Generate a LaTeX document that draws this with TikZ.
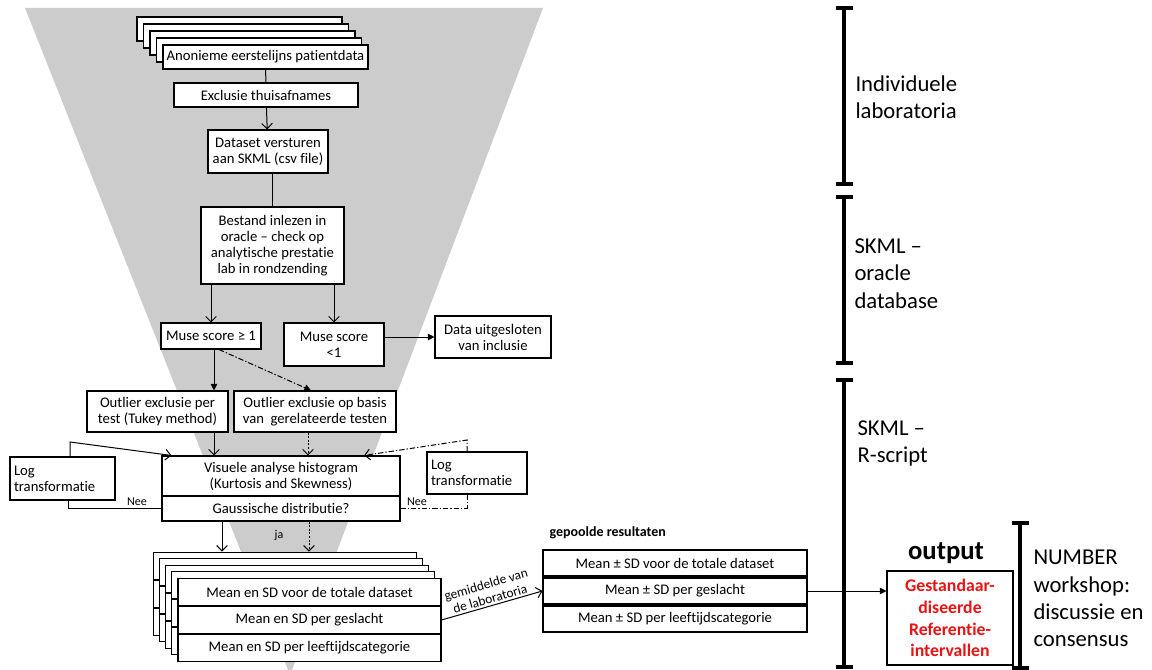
\documentclass[tikz,border=0pt]{standalone}
\usepackage{fontspec}
\setmainfont{Carlito}[Ligatures=NoCommon]
\usetikzlibrary{arrows.meta}
\definecolor{funnelgray}{RGB}{204,204,204}
\definecolor{outred}{RGB}{232,20,20}
\newcommand\myboxfont{\fontsize{11}{12}\selectfont}
\newcommand\mysidefont{\fontsize{17}{20.5}\selectfont}
\newcommand\mysmallfont{\fontsize{9}{10}\selectfont}
\tikzset{
  box/.style={draw, fill=white, line width=0.8pt, inner sep=0pt, align=center, font=\myboxfont},
  openarr/.style={-{Straight Barb[length=4pt,width=8pt]}},
  fillarr/.style={-{Triangle[length=5pt,width=5pt]}},
  dashdot/.style={dash pattern=on 4pt off 1.5pt on 1pt off 1.5pt},
  dotline/.style={dash pattern=on 1.5pt off 1.2pt},
  bar/.style={line width=2.5pt},
  side/.style={anchor=west, inner sep=0pt, align=left, font=\mysidefont},
  small/.style={inner sep=0pt, font=\mysmallfont}
}
\begin{document}
\begin{tikzpicture}[x=0.75pt,y=-0.75pt,line width=0.75pt]
\useasboundingbox (0,0) rectangle (1152,670);
\begin{scope}
\clip (0,0) rectangle (1152,670);
\fill[funnelgray] (25,8) -- (543,8) -- (290,675) -- cycle;
\end{scope}

% top stack
\foreach \k in {4,3,2,1}
  \node[box, minimum width=153.75pt, minimum height=18pt] (anonb\k) at ({265.5-6.5*\k},{57-7*\k}) {};
\node[box, minimum width=153.75pt, minimum height=18pt] (anon) at (265.5,57) {Anonieme eerstelijns patientdata};
\node[box, minimum width=138pt, minimum height=18pt] (excl) at (266,95) {Exclusie thuisafnames};
\node[box, minimum width=90pt, minimum height=32.25pt] (dataset) at (268,151.5) {Dataset versturen\\aan SKML (csv file)};
\node[box, minimum width=107.25pt, minimum height=57.75pt] (bestand) at (272.5,245.5) {Bestand inlezen in\\oracle – check op\\analytische prestatie\\lab in rondzending};
\node[box, minimum width=75pt, minimum height=19.5pt] (muse1) at (211,336) {Muse score ≥ 1};
\node[box, minimum width=75pt, minimum height=32.25pt] (muse2) at (334,344.5) {Muse score\\<1};
\node[box, minimum width=87pt, minimum height=31.5pt] (data) at (493,337) {Data uitgesloten\\van inclusie};
\node[box, minimum width=105.75pt, minimum height=30.75pt] (out1) at (157.5,411.5) {Outlier exclusie per\\test (Tukey method)};
\node[box, minimum width=121.5pt, minimum height=30.75pt] (out2) at (315,411.5) {Outlier exclusie op basis\\van~ gerelateerde testen};
\node[box, minimum width=178.5pt, minimum height=30pt] (vis) at (281,476) {Visuele analyse histogram\\(Kurtosis and Skewness)};
\node[box, minimum width=178.5pt, minimum height=18.75pt] (gauss) at (281,508.5) {Gaussische distributie?};
\node[box, minimum width=78.75pt, minimum height=32.25pt, align=left, text width=72.75pt] (logL) at (62.5,478.5) {Log\\transformatie};
\node[box, minimum width=75pt, minimum height=31.5pt, align=left, text width=69pt] (logR) at (477,473) {Log\\transformatie};

% bottom stacks
\foreach \k in {4,3,2,1}
  \foreach \r/\yy in {1/592,2/620,3/648}
    \node[box, minimum width=197.25pt, minimum height=20.25pt] (st\k\r) at ({309.5-6.1*\k},{\yy-6.6*\k}) {};
\node[box, minimum width=197.25pt, minimum height=20.25pt] (f1) at (309.5,592) {Mean en SD voor de totale dataset};
\node[box, minimum width=197.25pt, minimum height=20.25pt] (f2) at (309.5,620) {Mean en SD per geslacht};
\node[box, minimum width=197.25pt, minimum height=20.25pt] (f3) at (309.5,648) {Mean en SD per leeftijdscategorie};

\node[inner sep=0pt, anchor=west, font=\bfseries\fontsize{10.5}{12}\selectfont] (gep) at (549,533) {gepoolde resultaten};
\node[box, minimum width=198pt, minimum height=19.5pt] (p1) at (675,563) {Mean ± SD voor de totale dataset};
\node[box, minimum width=198pt, minimum height=19.5pt] (p2) at (675,591) {Mean ± SD per geslacht};
\node[box, minimum width=198pt, minimum height=19.5pt] (p3) at (675,619) {Mean ± SD per leeftijdscategorie};

% bars
\draw[bar] (835.5,8) -- (852.5,8) (844,8) -- (844,184) (835.5,184) -- (852.5,184);
\draw[bar] (835.5,197) -- (852.5,197) (844,197) -- (844,363) (835.5,363) -- (852.5,363);
\draw[bar] (835.5,380) -- (852.5,380) (844,380) -- (844,667) (835.5,667) -- (852.5,667);
\draw[bar] (1011.5,523) -- (1028.5,523) (1020,523) -- (1020,668) (1011.5,668) -- (1028.5,668);

\node[side] (lab1) at (855,97) {Individuele\\laboratoria};
\node[side] (lab2) at (854,273.5) {SKML –\\oracle\\database};
\node[side] (lab3) at (857,443.5) {SKML –\\R-script};
\node[side] (lab4) at (1033,598.5) {NUMBER\\workshop:\\discussie en\\consensus};

\node[inner sep=0pt, font=\bfseries\fontsize{20}{22}\selectfont] (outlbl) at (946,553) {output};
\node[box, minimum width=94.5pt, minimum height=70.5pt, font=\bfseries\fontsize{13.3}{16.3}\selectfont, text=outred] (outb) at (950,618) {Gestandaar-\\diseerde\\Referentie-\\intervallen};

% helper coordinates
\coordinate (xa) at (214,0);
\coordinate (xb) at (308,0);
\coordinate (xc) at (222,0);
\coordinate (xd) at (309,0);
\coordinate (xl) at (70,0);
\coordinate (xl2) at (68,0);
\coordinate (xr) at (467,0);
\coordinate (bendL) at (70,442);
\coordinate (bendL2) at (68,508);
\coordinate (bendR) at (467,440);
\coordinate (bendR2) at (467,508);

% connectors
\draw (anon) -- (excl);
\draw[openarr] (excl) -- (dataset);
\draw (bestand.north |- dataset.south) -- (bestand.north);
\draw[openarr] (bestand.south -| muse1) -- (muse1.north);
\draw[openarr] (bestand.south -| muse2) -- (muse2.north);
\draw[fillarr] (data.west -| muse2.east) -- (data.west);
\draw[fillarr] (muse1.south -| xa) -- (out1.north -| xa);
\draw[dashdot, fillarr] ([xshift=6pt]muse1.south) -- ([xshift=-3pt]out2.north);
\draw[openarr] (out1.south -| xa) -- (vis.north -| xa);
\draw[dotline, openarr] (out2.south -| xb) -- (vis.north -| xb);
\draw[openarr] (logL.north -| xl) -- (bendL) -- ([xshift=7.5pt]vis.north west);
\draw (logL.south -| xl2) -- (bendL2) -- (bendL2 -| gauss.west);
\node[small, anchor=south] (neeL) at (137,506) {Nee};
\draw[dashdot, openarr] (logR.north -| xr) -- (bendR) -- ([xshift=62.25pt]vis.north);
\draw[dashdot] (logR.south -| xr) -- (bendR2) -- (bendR2 -| gauss.east);
\node[small, anchor=south] (neeR) at (417,506) {Nee};
\draw[openarr] (gauss.south -| xc) -- (st41.north -| xc);
\draw[dotline, openarr] (gauss.south -| xd) -- (st41.north -| xd);
\node[small] (ja) at (279,535) {ja};
\draw[openarr] (f2.east) -- node[midway, sloped, above, align=center, inner sep=1.5pt, font=\fontsize{10}{11}\selectfont] (gemlbl) {gemiddelde van\\de laboratoria} (p2.west);
\draw[fillarr] (p2.east) -- (outb.west |- p2.east);
\end{tikzpicture}
\end{document}
